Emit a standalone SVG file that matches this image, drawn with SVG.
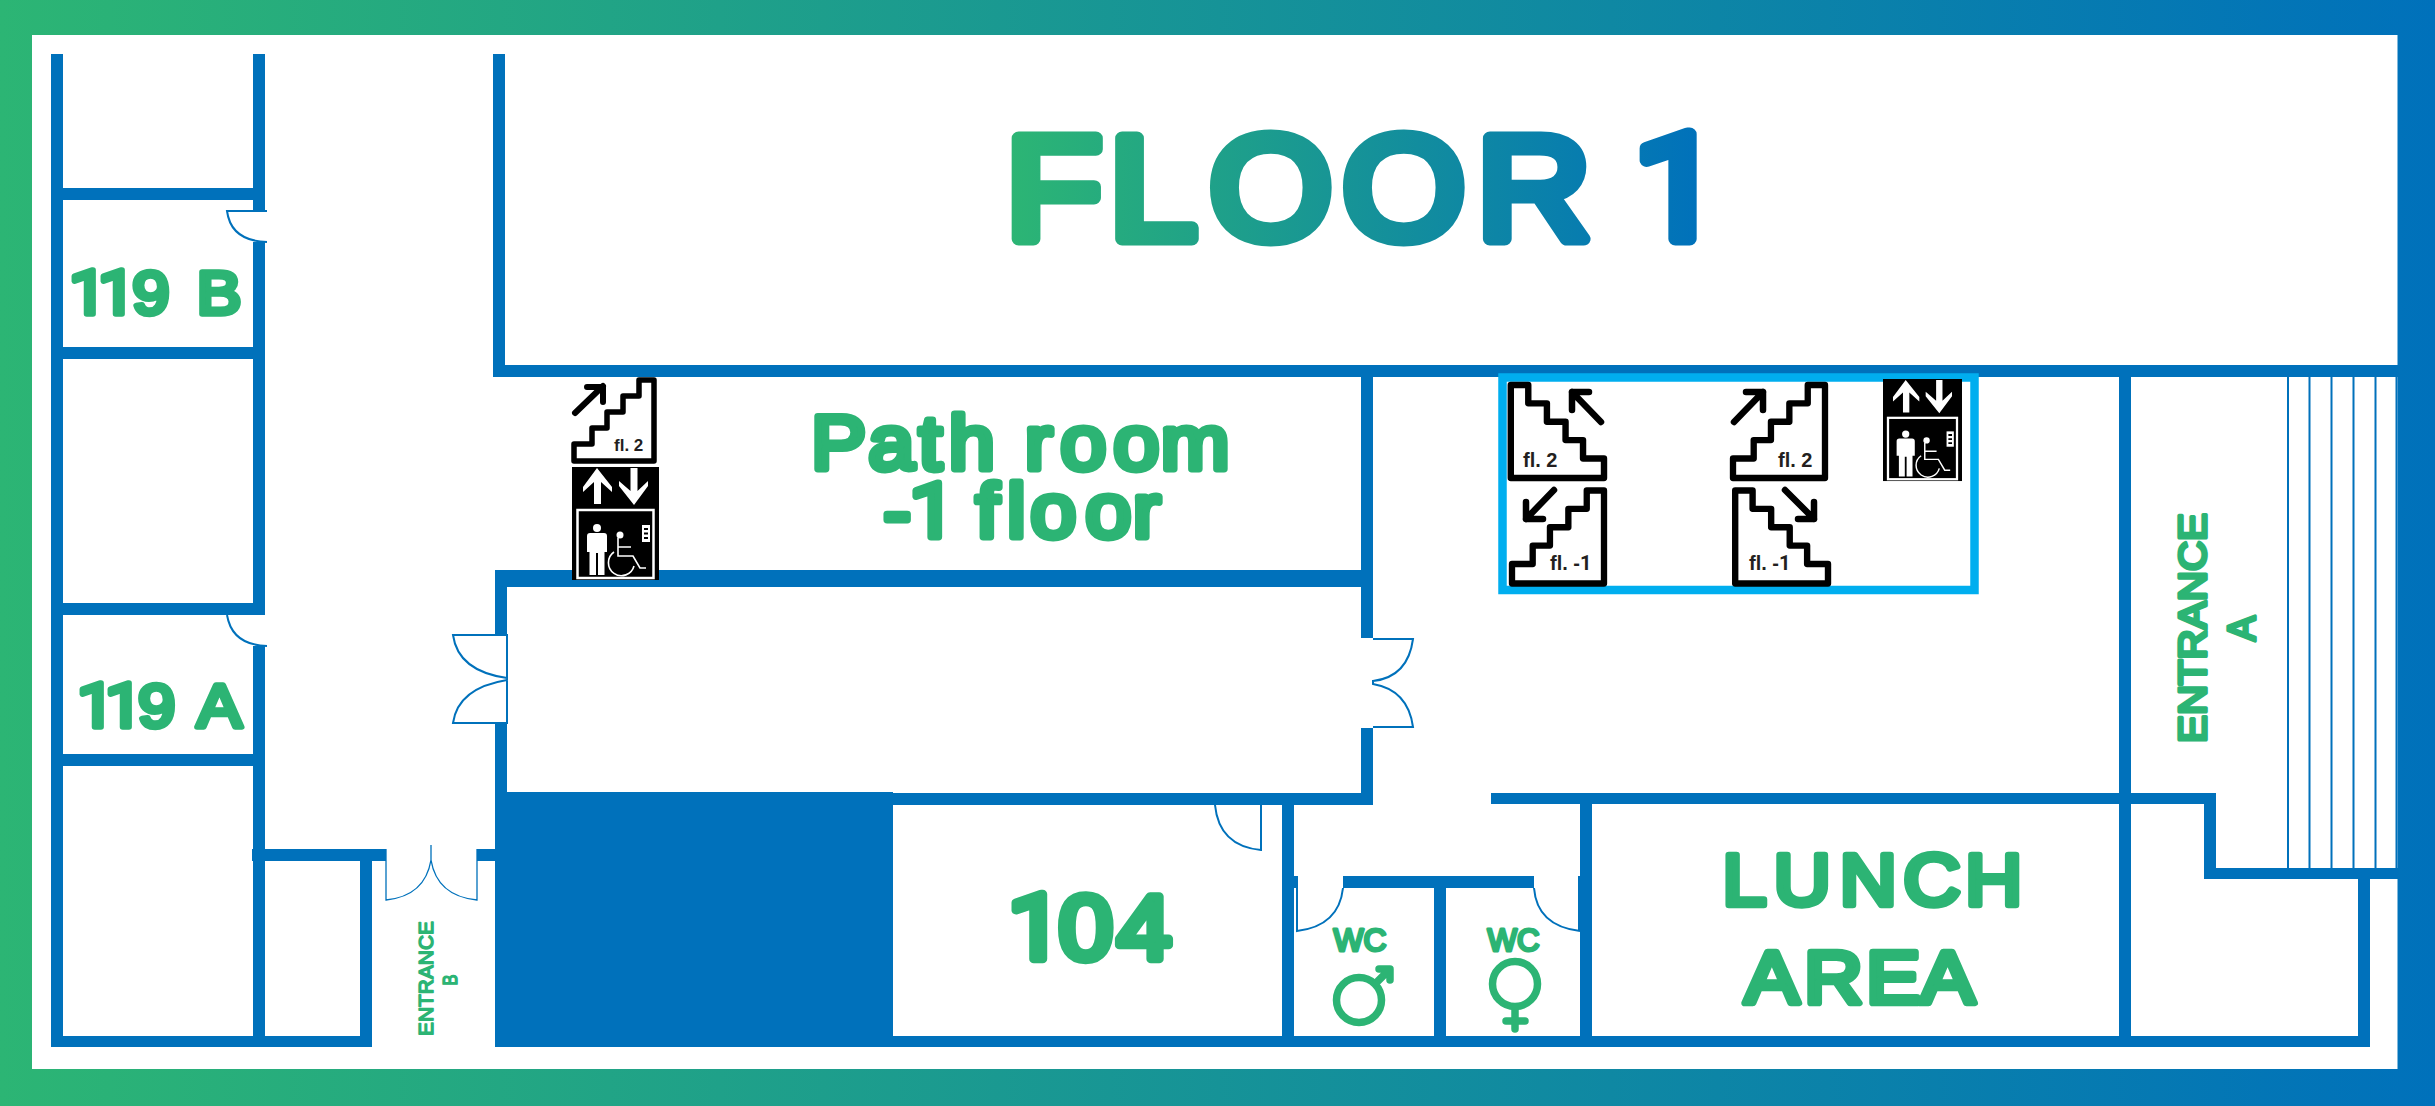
<svg xmlns="http://www.w3.org/2000/svg" width="2435" height="1106" viewBox="0 0 2435 1106">
<style>
.w{fill:#0071bb}
.dn{fill:none;stroke:#0071bb;stroke-width:2}
.t{font-family:"Liberation Sans",Arial,sans-serif;font-weight:400;fill:#2cb474;stroke:#2cb474;stroke-linejoin:round;stroke-linecap:round}
.r{font-family:Roboto,"Liberation Sans",sans-serif}
.s{fill:#fff;stroke:#000;stroke-width:5.500;stroke-linejoin:round}
.a{fill:none;stroke:#000;stroke-width:6;stroke-linecap:round;stroke-linejoin:round}
.f{font-family:"Liberation Sans",Arial,sans-serif;font-weight:700;fill:#231f20;font-size:20px}
.g{fill:none;stroke:#2cb474;stroke-width:7.500;stroke-linecap:round;stroke-linejoin:round}
.st{stroke:#0071bb;stroke-width:2}
.wh{fill:none;stroke:#fff;stroke-width:1.600}
</style>
<defs>
<linearGradient id="frameG" gradientUnits="userSpaceOnUse" x1="0" y1="0" x2="2435" y2="0"><stop offset="0" stop-color="#2cb574"/><stop offset="1" stop-color="#0071bb"/></linearGradient>
<linearGradient id="titleG" gradientUnits="userSpaceOnUse" x1="935" y1="0" x2="1575" y2="0"><stop offset="0" stop-color="#2cb574"/><stop offset="1" stop-color="#0071bb"/></linearGradient>
<path id="steps" d="M0 81V64H18V48H33V32H49V16H65V0H80V81Z"/>
<g id="lift">
<rect x="572" y="467" width="87" height="113" fill="#000"/>
<path fill="#fff" d="M597 468L612 487V492L601 482V504H594V482L583 492V487Z"/>
<path fill="#fff" d="M634 505L648 486V481L637.500 491V468H630.500V491L619 481V486Z"/>
<rect x="577.500" y="510" width="76" height="68" fill="none" stroke="#fff" stroke-width="2.500"/>
<circle cx="597" cy="528" r="4" fill="#fff"/>
<path fill="#fff" d="M590 533H604Q607 533 607 536V552H604.500V575H598V553H596V575H589.500V552H587V536Q587 533 590 533Z"/>
<circle cx="620" cy="535" r="3.500" fill="#fff"/>
<path class="wh" d="M618 538V556H633L640 568H646M618 547H631M614 552A13 13 0 1 0 634 566"/>
<rect x="642" y="525" width="8" height="17" fill="#fff"/>
<path d="M644 528h4v2h-4zM644 532.500h4v2h-4zM644 537h4v2h-4z" fill="#000"/>
</g>
</defs>
<g id="frame">
<rect width="2435" height="1106" fill="url(#frameG)"/>
<rect x="32" y="35" width="2365.500" height="1034" fill="#fff"/>
</g>
<g id="walls">
<rect class="w" x="51" y="54" width="12" height="993"/>
<rect class="w" x="253" y="54" width="12" height="157"/>
<rect class="w" x="253" y="242" width="12" height="373"/>
<rect class="w" x="253" y="646" width="12" height="401"/>
<rect class="w" x="51" y="188" width="214" height="12"/>
<rect class="w" x="51" y="347" width="214" height="12"/>
<rect class="w" x="51" y="603" width="214" height="12"/>
<rect class="w" x="51" y="754" width="214" height="12"/>
<rect class="w" x="252" y="849" width="134" height="12"/>
<rect class="w" x="477" y="849" width="20" height="12"/>
<rect class="w" x="360" y="855" width="12" height="192"/>
<rect class="w" x="51" y="1036" width="321" height="11"/>
<rect class="w" x="493" y="54" width="12" height="323"/>
<rect class="w" x="493" y="365" width="1905" height="12"/>
<rect class="w" x="495" y="570" width="878" height="17"/>
<rect class="w" x="495" y="570" width="12" height="65"/>
<rect class="w" x="495" y="723" width="12" height="80"/>
<rect class="w" x="495" y="792" width="398" height="255"/>
<rect class="w" x="1361" y="365" width="12" height="273"/>
<rect class="w" x="1361" y="728" width="12" height="77"/>
<rect class="w" x="893" y="793" width="480" height="12"/>
<rect class="w" x="1282" y="793" width="12" height="254"/>
<rect class="w" x="1282" y="876" width="16" height="12"/>
<rect class="w" x="1343" y="876" width="191" height="12"/>
<rect class="w" x="1434" y="876" width="12" height="171"/>
<rect class="w" x="1580" y="793" width="12" height="254"/>
<rect class="w" x="1578" y="876" width="3" height="55"/>
<rect class="w" x="1491" y="793" width="725" height="11"/>
<rect class="w" x="2119" y="365" width="12" height="682"/>
<rect class="w" x="2204" y="793" width="12" height="86"/>
<rect class="w" x="2204" y="868" width="194" height="11"/>
<rect class="w" x="2358" y="868" width="12" height="179"/>
<rect class="w" x="495" y="1036" width="1875" height="11"/>
</g>
<g id="stair-lines">
<path class="st" d="M2288 377V868M2309.500 377V868M2331.500 377V868M2353.500 377V868M2375.500 377V868M2396.500 377V868"/>
</g>
<g id="doors">
<path class="dn" d="M267 211H227Q231 241 267 242"/>
<path class="dn" d="M227 615Q232 645 267 646"/>
<path fill="#fff" stroke="#0071bb" stroke-width="2" d="M453 635H507V723H453Q458 688 507 680V678Q458 671 453 635Z"/>
<path class="dn" d="M386 849V900Q425 896 431 860V845V860Q437 896 477 900V849" style="stroke-width:1.300"/>
<path class="dn" d="M1373 639H1413Q1408 677 1373 681V684Q1408 690 1413 727H1373"/>
<path class="dn" d="M1261 805V850Q1219 846 1215 805"/>
<path class="dn" d="M1297 888V931Q1339 926 1343 888"/>
<path class="dn" d="M1534 888Q1537 926 1580 931"/>
</g>
<rect id="lift-frame" x="1502.500" y="377.500" width="472" height="212.500" fill="none" stroke="#00aeef" stroke-width="8.500"/>
<g id="title"><text transform="scale(1.08 1)" x="931.200 1027 1119.900 1243 1367.600 1470 1512.600" y="239" font-size="146" font-family="Liberation Sans, Arial, sans-serif" fill="url(#titleG)" stroke="url(#titleG)" stroke-width="13" stroke-linejoin="round">FLOOR <tspan class="r">1</tspan></text></g>
<g id="room-119b"><text class="t" transform="scale(1.08 1)" x="63.900 90.700 122.500 160 182.100" y="314" font-size="62" stroke-width="5.600"><tspan class="r">11</tspan>9 B</text></g>
<g id="room-119a"><text class="t" transform="scale(1.08 1)" x="71.300 97.200 127.700 165 182.500" y="727" font-size="62" stroke-width="5.600"><tspan class="r">11</tspan>9 A</text></g>
<g id="room-path"><text class="t" transform="scale(1.08 1)" x="751.200 804.100 851 878.700 920 949 981.900 1031 1075" y="469.300" font-size="76" stroke-width="6.800">Path room</text><text class="t" transform="scale(1.08 1)" x="818 842 880 903.800 932.700 954.100 1005 1049" y="536.600" font-size="76" stroke-width="6.800">-<tspan class="r">1</tspan> floor</text></g>
<g id="room-104"><text class="t" transform="scale(1.08 1)" x="933.300 980.300 1034.400" y="959" font-size="90" stroke-width="8.500"><tspan class="r">1</tspan>04</text></g>
<g id="room-lunch"><text class="t" transform="scale(1.08 1)" x="1595 1642.400 1703.500 1762.600 1819.700" y="905" font-size="73" stroke-width="6.500">LUNCH</text><text class="t" transform="scale(1.08 1)" x="1615.500 1670.500 1727.900 1778.200" y="1003.400" font-size="75" stroke-width="6.700">AREA</text></g>
<g id="entrance-a"><text class="t" transform="translate(2206 743) rotate(-90)" font-size="38.500" stroke-width="3.500" textLength="230" lengthAdjust="spacingAndGlyphs">ENTRANCE</text><text class="t" transform="translate(2255 641) rotate(-90)" font-size="38.500" stroke-width="3.500" textLength="25" lengthAdjust="spacingAndGlyphs">A</text></g>
<g id="entrance-b"><text class="t" transform="translate(433 1036) rotate(-90)" font-size="21" stroke-width="1.500" textLength="115" lengthAdjust="spacingAndGlyphs">ENTRANCE</text><text class="t" transform="translate(457 985.500) rotate(-90)" font-size="21" stroke-width="1.500" textLength="11" lengthAdjust="spacingAndGlyphs">B</text></g>
<g id="wc-men"><text class="t" x="1333.500" y="950.500" font-size="32" stroke-width="3" textLength="53" lengthAdjust="spacingAndGlyphs">WC</text><circle class="g" cx="1359" cy="1000" r="22.500"/><path class="g" d="M1376 983L1389 970M1379 969H1390V980"/></g>
<g id="wc-women"><text class="t" x="1487.500" y="950.500" font-size="32" stroke-width="3" textLength="52" lengthAdjust="spacingAndGlyphs">WC</text><circle class="g" cx="1515" cy="984" r="22.500"/><path class="g" d="M1515 1007V1029M1506 1021H1525"/></g>
<g id="stairs-west">
<use href="#steps" class="s" x="574" y="380"/>
<path class="a" d="M575 413L603 386M587 387H603V402"/>
<text class="f" x="614" y="451" style="font-size:17px">fl. 2</text>
</g>
<use id="lift-west" href="#lift"/>
<g id="stairs-east">
<g transform="translate(1604 385) scale(-1.165 1.148)"><use href="#steps" class="s"/></g>
<path class="a" d="M1601 422L1572 392M1572 410V392H1589" style="stroke-width:6.500"/>
<text class="f" x="1523" y="467">fl. 2</text>
<g transform="translate(1733 385) scale(1.150 1.148)"><use href="#steps" class="s"/></g>
<path class="a" d="M1734 422L1763 392M1746 392H1763V410" style="stroke-width:6.500"/>
<text class="f" x="1778" y="467">fl. 2</text>
<g transform="translate(1512 490.500) scale(1.150 1.148)"><use href="#steps" class="s"/></g>
<path class="a" d="M1554 490L1526 519M1526 502V519H1543" style="stroke-width:6.500"/>
<text class="f" x="1550" y="570">fl. -<tspan class="r">1</tspan></text>
<g transform="translate(1828 490.500) scale(-1.160 1.148)"><use href="#steps" class="s"/></g>
<path class="a" d="M1785 490L1814 519M1814 502V519H1798" style="stroke-width:6.500"/>
<text class="f" x="1749" y="570">fl. -<tspan class="r">1</tspan></text>
</g>
<g id="lift-east" transform="translate(1883 379) scale(.908 .903) translate(-572 -467)"><use href="#lift"/></g>
</svg>
